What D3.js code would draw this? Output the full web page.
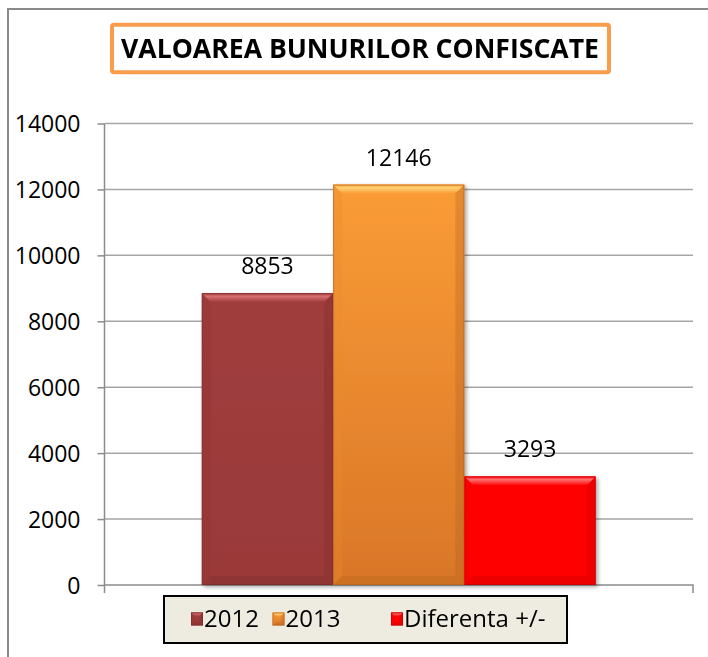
<!DOCTYPE html>
<html>
<head>
<meta charset="utf-8">
<script src="https://cdn.jsdelivr.net/npm/d3@7"></script>
<style>
  html, body { margin: 0; padding: 0; background: #fff; }
  svg { display: block; font-family: "Open Sans", sans-serif; }
</style>
</head>
<body>
<svg id="chart" width="708" height="657"></svg>
<script>
// Chart data
const chartTitle = "VALOAREA BUNURILOR CONFISCATE";
const seriesNames = ["2012", "2013", "Diferenta +/-"];
const seriesValues = [8853, 12146, 3293];
const yTicks = [0, 2000, 4000, 6000, 8000, 10000, 12000, 14000];

// Fill styles per series: body gradient, bevel highlight, side and dark edges
const palette = [
  { top: "#A03D3D", bottom: "#9A3939", light: "#D87070", side: "#8E3434", dark: "#7A2B2B" },
  { top: "#FA9C36", bottom: "#D97628", light: "#FFD275", side: "#E88A2E", dark: "#B0601F" },
  { top: "#FF0505", bottom: "#FF0000", light: "#FF7070", side: "#F00000", dark: "#C00000" }
];

const svg = d3.select("#chart");
const defs = svg.append("defs");

// Outer frame
svg.append("rect")
  .attr("x", 8).attr("y", 9).attr("width", 760).attr("height", 700)
  .attr("fill", "#fff").attr("stroke", "#8a8a8a").attr("stroke-width", 2);

// Plot geometry
const plot = { left: 104.5, right: 693, top: 123.5, bottom: 585 };

const y = d3.scaleLinear().domain([0, 14000]).range([plot.bottom, plot.top]);
const xGroup = d3.scaleBand().domain(["all"]).range([plot.left, plot.right])
  .paddingInner(0).paddingOuter(0.247);
const x = d3.scaleBand().domain(seriesNames)
  .range([xGroup("all"), xGroup("all") + xGroup.bandwidth()]).padding(0);

// Gridlines
svg.append("g").selectAll("line").data(yTicks.filter(t => t > 0)).join("line")
  .attr("x1", plot.left).attr("x2", plot.right)
  .attr("y1", d => y(d)).attr("y2", d => y(d))
  .attr("stroke", "#a6a6a6").attr("stroke-width", 1.5);

// Value axis
const yAxis = d3.axisLeft(y).tickValues(yTicks).tickSize(7).tickPadding(17)
  .tickFormat(d3.format("d"));
const gy = svg.append("g").attr("transform", `translate(${plot.left},0)`).call(yAxis);
gy.select(".domain").attr("stroke", "#8c8c8c").attr("stroke-width", 1.5)
  .attr("d", `M0,${plot.top}V${plot.bottom + 8}`);
gy.selectAll(".tick line").attr("stroke", "#8c8c8c").attr("stroke-width", 1.5);
gy.selectAll(".tick text").attr("fill", "#000").attr("font-size", 23)
  .attr("font-family", "'Open Sans', sans-serif").attr("dy", "0.35em");

// Category axis baseline with end ticks
svg.append("path")
  .attr("d", `M${plot.left},${plot.bottom}H${plot.right}V${plot.bottom + 8}`)
  .attr("fill", "none").attr("stroke", "#8c8c8c").attr("stroke-width", 1.5);

// Soft shadow filter for bars
const shadow = defs.append("filter").attr("id", "barShadow")
  .attr("x", "-10%").attr("y", "-10%").attr("width", "130%").attr("height", "130%");
shadow.append("feGaussianBlur").attr("in", "SourceAlpha").attr("stdDeviation", 2);
shadow.append("feOffset").attr("dx", 2).attr("dy", 2).attr("result", "off");
shadow.append("feComponentTransfer").append("feFuncA").attr("type", "linear").attr("slope", 0.35);
const merge = shadow.append("feMerge");
merge.append("feMergeNode");
merge.append("feMergeNode").attr("in", "SourceGraphic");

palette.forEach((p, i) => {
  const g = defs.append("linearGradient").attr("id", "body" + i)
    .attr("x1", 0).attr("y1", 0).attr("x2", 0).attr("y2", 1);
  g.append("stop").attr("offset", "0%").attr("stop-color", p.top);
  g.append("stop").attr("offset", "100%").attr("stop-color", p.bottom);
  const t = defs.append("linearGradient").attr("id", "topEdge" + i)
    .attr("x1", 0).attr("y1", 0).attr("x2", 0).attr("y2", 1);
  t.append("stop").attr("offset", "0%").attr("stop-color", p.top);
  t.append("stop").attr("offset", "35%").attr("stop-color", p.light);
  t.append("stop").attr("offset", "100%").attr("stop-color", p.top);
});

// Draws a bevelled block
function bevel(sel, bx, by, w, h, b, i) {
  const p = palette[i];
  const g = sel.append("g");
  g.append("rect").attr("x", bx).attr("y", by).attr("width", w).attr("height", h)
    .attr("fill", `url(#body${i})`);
  const pts = a => a.map(q => q.join(",")).join(" ");
  // top edge
  g.append("polygon").attr("points", pts([[bx, by], [bx + w, by], [bx + w - b, by + b], [bx + b, by + b]]))
    .attr("fill", `url(#topEdge${i})`);
  // left edge
  g.append("polygon").attr("points", pts([[bx, by], [bx + b, by + b], [bx + b, by + h - b], [bx, by + h]]))
    .attr("fill", p.side).attr("opacity", 0.3);
  // right edge
  g.append("polygon").attr("points", pts([[bx + w, by], [bx + w, by + h], [bx + w - b, by + h - b], [bx + w - b, by + b]]))
    .attr("fill", p.dark).attr("opacity", 0.3);
  // bottom edge
  g.append("polygon").attr("points", pts([[bx, by + h], [bx + b, by + h - b], [bx + w - b, by + h - b], [bx + w, by + h]]))
    .attr("fill", p.dark).attr("opacity", 0.3);
  g.append("rect").attr("x", bx + 0.5).attr("y", by + 0.5).attr("width", w - 1).attr("height", h - 1)
    .attr("fill", "none").attr("stroke", p.dark).attr("stroke-width", 1).attr("opacity", 0.6);
  return g;
}

// Bars
const bars = svg.append("g").attr("filter", "url(#barShadow)");
seriesNames.forEach((name, i) => {
  const v = seriesValues[i];
  bevel(bars, x(name), y(v), x.bandwidth(), y(0) - y(v), 9, i);
});

// Value labels
svg.append("g").selectAll("text").data(seriesNames).join("text")
  .attr("x", d => x(d) + x.bandwidth() / 2)
  .attr("y", (d, i) => y(seriesValues[i]) - 19)
  .attr("text-anchor", "middle")
  .attr("font-size", 23).attr("fill", "#000")
  .text((d, i) => seriesValues[i]);

// Title box
svg.append("rect")
  .attr("x", 112).attr("y", 24.7).attr("width", 497).attr("height", 47.5)
  .attr("rx", 2).attr("fill", "#fff").attr("stroke", "#F99D4C").attr("stroke-width", 4);
svg.append("text")
  .attr("x", 121).attr("y", 57.7)
  .attr("font-size", 27).attr("font-weight", "bold").attr("fill", "#000")
  .attr("textLength", 478).attr("lengthAdjust", "spacingAndGlyphs")
  .text(chartTitle);

// Legend
const legend = svg.append("g");
legend.append("rect")
  .attr("x", 164).attr("y", 596).attr("width", 403).attr("height", 47)
  .attr("fill", "#EEECE1").attr("stroke", "#000").attr("stroke-width", 2);
const legendX = [191, 272.5, 391];
seriesNames.forEach((name, i) => {
  bevel(legend, legendX[i], 612.5, 12, 13, 3.5, i);
  legend.append("text")
    .attr("x", legendX[i] + 13).attr("y", 619).attr("dy", "0.35em")
    .attr("font-size", 24).attr("fill", "#000")
    .text(name);
});
</script>
</body>
</html>
